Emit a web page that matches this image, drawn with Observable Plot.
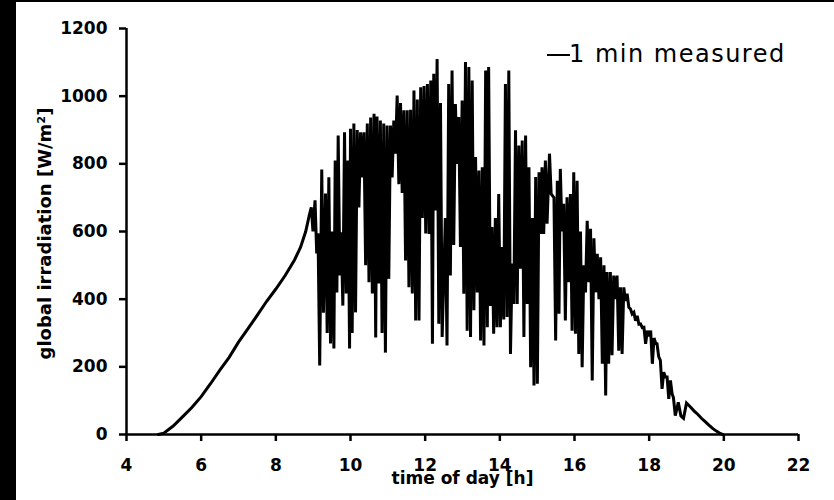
<!DOCTYPE html>
<html>
<head>
<meta charset="utf-8">
<script src="https://cdn.jsdelivr.net/npm/d3@7"></script>
<script src="https://cdn.jsdelivr.net/npm/@observablehq/plot@0.6"></script>
<style>
  html, body { margin: 0; padding: 0; background: #000; width: 834px; height: 500px; overflow: hidden; }
  #panel { position: absolute; left: 16px; top: 2px; width: 818px; height: 498px; background: #fff; }
  #legend-line { position: absolute; left: 531px; top: 52px; width: 23px; height: 2px; background: #000; }
  #legend-text { position: absolute; left: 553px; top: 40px; font-family: "DejaVu Sans"; font-size: 24px;
                 line-height: 24px; letter-spacing: 1.5px; color: #000; white-space: nowrap; }
</style>
</head>
<body>
<div id="panel"></div>
<script>
// ---- data ----
const xTicks = [4, 6, 8, 10, 12, 14, 16, 18, 20, 22];
const yTicks = [0, 200, 400, 600, 800, 1000, 1200];
const xTitle = "time of day [h]";
const yTitle = "global irradiation [W/m²]";
const seriesName = "1 min measured";

// clear-sky morning ramp
const morningHours  = [4.85, 5.0, 5.25, 5.5, 5.75, 6.0, 6.25, 6.5, 6.75, 7.0, 7.25, 7.5, 7.75, 8.0, 8.25, 8.5, 8.66, 8.8, 8.9];
const morningValues = [0, 4, 25, 52, 80, 112, 150, 190, 228, 273, 312, 352, 393, 430, 470, 516, 553, 600, 650];

// cloudy period: per time slot, the highest and lowest 1-min reading
const cloudHours = [8.95, 9.05, 9.13, 9.23, 9.33, 9.42, 9.51, 9.59, 9.67, 9.75, 9.84, 9.93,
  10.00, 10.09, 10.18, 10.27, 10.36, 10.45, 10.54, 10.63, 10.71, 10.80, 10.89, 10.98,
  11.07, 11.16, 11.25, 11.34, 11.43, 11.52, 11.61, 11.70, 11.79, 11.88, 11.97,
  12.06, 12.15, 12.23, 12.32, 12.41, 12.54, 12.63, 12.72, 12.81, 12.90, 12.99,
  13.08, 13.17, 13.26, 13.35, 13.44, 13.53, 13.62, 13.70, 13.79, 13.88, 13.97,
  14.06, 14.15, 14.24, 14.33, 14.42, 14.51, 14.60, 14.69, 14.78, 14.87, 14.96,
  15.05, 15.13, 15.22, 15.33, 15.45, 15.54, 15.62, 15.71, 15.80, 15.89, 15.98,
  16.07, 16.16, 16.25, 16.34, 16.43, 16.52, 16.61, 16.70, 16.79, 16.87, 16.96,
  17.05, 17.14, 17.23, 17.32, 17.41, 17.50, 17.59, 17.68, 17.77, 17.86, 17.95,
  18.04, 18.13, 18.21, 18.30, 18.39, 18.48, 18.57];
const cloudHigh = [671, 692, 595, 783, 712, 760, 600, 810, 884, 598, 893, 810,
  904, 919, 900, 893, 893, 919, 937, 948, 940, 928, 919, 913,
  913, 928, 1002, 980, 958, 958, 960, 1017, 990, 1026, 1030,
  1036, 1046, 1066, 1110, 980, 640, 1036, 1076, 977, 938, 987,
  1101, 1086, 1046, 820, 780, 790, 1076, 1086, 613, 640, 711,
  554, 1036, 1076, 505, 899, 854, 869, 884, 790, 640, 761,
  775, 790, 810, 830, 700, 750, 785, 682, 701, 711, 775,
  750, 600, 500, 632, 608, 580, 534, 524, 500, 480, 480,
  470, 470, 435, 435, 416, 371, 361, 351, 327, 317, 307,
  307, 285, 268, 219, 184, 170, 160];
const cloudLow = [600, 535, 204, 360, 300, 269, 254, 420, 470, 381, 417, 254,
  300, 361, 671, 760, 500, 450, 417, 287, 446, 300, 242, 460,
  760, 830, 740, 714, 514, 435, 417, 337, 337, 640, 594,
  593, 268, 662, 327, 288, 263, 470, 560, 800, 554, 416,
  307, 288, 367, 420, 278, 263, 317, 380, 298, 317, 317,
  340, 347, 238, 386, 386, 490, 288, 386, 199, 145, 150,
  593, 593, 623, 711, 278, 357, 600, 337, 450, 307, 298,
  238, 199, 420, 450, 160, 420, 400, 209, 115, 209, 234,
  400, 248, 238, 395, 376, 356, 336, 326, 316, 268, 290,
  209, 270, 230, 135, 170, 105, 120];

// evening tail
const eveningHours  = [18.65, 18.7, 18.78, 18.85, 18.92, 19.0, 19.1, 19.2, 19.3, 19.4, 19.5, 19.6, 19.7, 19.8, 19.9, 19.97];
const eveningValues = [109, 56, 95, 55, 48, 93, 82, 70, 60, 48, 38, 28, 18, 10, 3, 0];

// ---- build the table for the line ----
// in each cloudy slot the maximum is followed by the minimum a few minutes later
const slotLag = 0.045;
const points = [];
morningHours.forEach((h, i) => points.push({h, v: morningValues[i]}));
cloudHours.forEach((h, i) => {
  points.push({h, v: cloudHigh[i]});
  points.push({h: h + slotLag, v: cloudLow[i]});
});
eveningHours.forEach((h, i) => points.push({h, v: eveningValues[i]}));

const chart = Plot.plot({
  width: 818,
  height: 498,
  marginLeft: 110,
  marginRight: 36,
  marginTop: 26,
  marginBottom: 66,
  x: {domain: [4, 22]},
  y: {domain: [0, 1200]},
  style: {fontFamily: "DejaVu Sans", fontSize: "17px", fontWeight: "bold", color: "#000",
          background: "#fff", overflow: "visible"},
  marks: [
    Plot.line(points, {x: "h", y: "v", stroke: "#000", strokeWidth: 3, strokeLinejoin: "miter", strokeMiterlimit: 2.5}),
    Plot.axisX({ticks: xTicks, tickSize: 7, tickPadding: 17, strokeWidth: 2.5, label: null, tickFormat: d => String(d)}),
    Plot.axisY({ticks: yTicks, tickSize: 7, tickPadding: 12, strokeWidth: 2.5, label: null, tickFormat: d => String(d)}),
    Plot.ruleX([4], {stroke: "#000", strokeWidth: 2.5}),
    Plot.ruleY([0], {stroke: "#000", strokeWidth: 2.5}),
    Plot.text([xTitle], {text: d => d, frameAnchor: "bottom", dy: 49, fontSize: 17, fontWeight: "bold", fill: "#000", textAnchor: "middle"}),
    Plot.text([yTitle], {text: d => d, frameAnchor: "left", rotate: -90, dx: -81, dy: 2, fontSize: 18, fontWeight: "bold", fill: "#000", textAnchor: "middle"})
  ]
});
const panel = document.getElementById("panel");
panel.appendChild(chart);
const ll = document.createElement("div"); ll.id = "legend-line"; panel.appendChild(ll);
const lt = document.createElement("div"); lt.id = "legend-text"; lt.textContent = seriesName; panel.appendChild(lt);
</script>
</body>
</html>
